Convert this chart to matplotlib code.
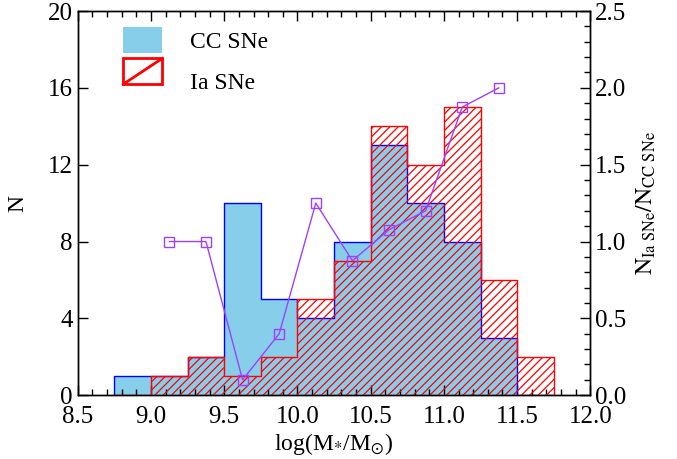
import numpy as np
import matplotlib
matplotlib.use('Agg')
import matplotlib.pyplot as plt
from matplotlib.patches import Rectangle
from matplotlib.lines import Line2D
from matplotlib.legend_handler import HandlerBase
from matplotlib.ticker import MultipleLocator

plt.rcParams['font.family'] = ['Liberation Serif', 'DejaVu Serif']
plt.rcParams['mathtext.fontset'] = 'stix'
plt.rcParams['hatch.linewidth'] = 0.9

# stellar mass bins, width 0.25 dex
edges = np.arange(8.75, 11.76, 0.25)
n_cc = np.array([1, 1, 2, 10, 5, 4, 8, 13, 10, 8, 3, 0])
n_ia = np.array([0, 1, 2, 1, 2, 5, 7, 14, 12, 15, 6, 2])

# ratio of Ia to CC counts where both exist
ok = (n_cc > 0) & (n_ia > 0)
centres = 0.5 * (edges[:-1] + edges[1:])
ratio = n_ia[ok] / n_cc[ok]
ratio_x = centres[ok]


def step_xy(e, n):
    x = np.repeat(e, 2)
    y = np.concatenate([[0], np.repeat(n, 2), [0]])
    return x, y


class HatchBox(HandlerBase):
    def create_artists(self, legend, orig, xd, yd, w, h, fs, trans):
        r = Rectangle((xd, yd), w, h, fill=False, ec='red', lw=2, transform=trans)
        l = Line2D([xd, xd + w], [yd, yd + h], color='red', lw=2, transform=trans)
        return [r, l]


fig = plt.figure(figsize=(6.77, 4.59), dpi=100)
ax = fig.add_axes([0.115, 0.139, 0.757, 0.837])

ax.stairs(n_cc, edges, fill=True, color='#87CEEB', lw=0, zorder=1)
x, y = step_xy(edges, n_cc)
ax.plot(x, y, color='blue', lw=1.0, zorder=2)
ax.stairs(n_ia, edges, fill=True, facecolor='none', edgecolor='red', hatch='////', lw=0, zorder=3)
x, y = step_xy(edges, n_ia)
ax.plot(x, y, color='red', lw=1.0, zorder=4)

ax.set_xlim(8.5, 12.0)
ax.set_ylim(0, 20)
ax.xaxis.set_minor_locator(MultipleLocator(0.1))
ax.yaxis.set_major_locator(MultipleLocator(4))
ax.set_xticks(np.arange(8.5, 12.01, 0.5))
ax.set_xticklabels(['%.1f' % v for v in np.arange(8.5, 12.01, 0.5)])
ax.tick_params(which='both', direction='in', top=True, right=False, labelsize=18, width=1)
ax.tick_params(which='major', length=7)
ax.tick_params(which='minor', length=4)
ax.tick_params(axis='x', pad=8)
ax.set_xlabel(r'log(M$_{*}$/M$_{\odot}$)', fontsize=17, labelpad=2)
ax.set_ylabel('N', fontsize=17, labelpad=14)

ax2 = ax.twinx()
ax2.plot(ratio_x, ratio, color='#A040FF', lw=1.0, marker='s', ms=7,
         mfc='none', mec='#A040FF', mew=1.0, zorder=5)
ax2.set_ylim(0, 2.5)
ax2.yaxis.set_minor_locator(MultipleLocator(0.1))
ax2.set_yticks(np.arange(0, 2.51, 0.5))
ax2.set_yticklabels(['%.1f' % v for v in np.arange(0, 2.51, 0.5)])
ax2.tick_params(which='both', direction='in', labelsize=18, width=1)
ax2.tick_params(which='major', length=7)
ax2.tick_params(which='minor', length=4)
ax2.set_ylabel(r'$\mathrm{N_{Ia\ SNe}/N_{CC\ SNe}}$', fontsize=17, labelpad=6)

for a in (ax, ax2):
    for s in a.spines.values():
        s.set_linewidth(1.0)

h1 = Rectangle((0, 0), 1, 1, fc='#87CEEB', ec='none')
h2 = Rectangle((0, 0), 1, 1)
ax.legend([h1, h2], ['CC SNe', 'Ia SNe'], handler_map={h2: HatchBox()},
          loc='upper left', bbox_to_anchor=(0.047, 1.013), frameon=False,
          fontsize=17, handlelength=1.65, handleheight=1.3, handletextpad=1.2,
          labelspacing=0.65)

fig.savefig('out.png', dpi=100)
